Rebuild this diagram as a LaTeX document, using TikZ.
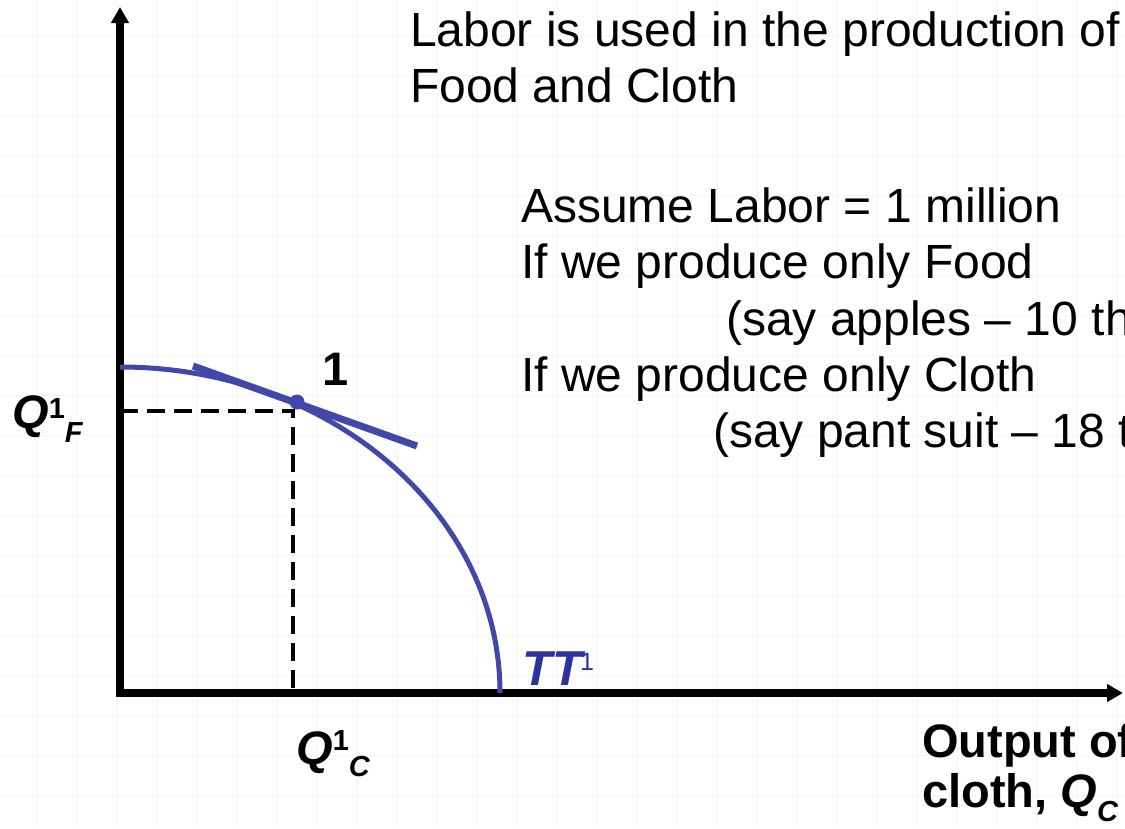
\documentclass[tikz,border=0pt]{standalone}
\usepackage{fontspec}
\setmainfont{Liberation Sans}
\usetikzlibrary{arrows.meta}

\definecolor{ppfblue}{RGB}{66,72,170}
\definecolor{ttblue}{RGB}{46,50,158}
\newcommand{\bodyfont}{\fontsize{48}{56}\selectfont}
\newcommand{\labfont}{\fontsize{47}{54}\selectfont\bfseries}
\newcommand{\smlfont}{\fontsize{29}{30}\selectfont}

\begin{document}
\begin{tikzpicture}[
    x=1pt, y=-1pt,
    gridline/.style={draw=black!4, line width=1pt},
    axis/.style={line width=8pt, line join=miter, {Triangle[length=16pt,width=17pt]}-{Triangle[length=16pt,width=17pt]}},
    ppf/.style={draw=ppfblue, line width=5pt},
    tangent/.style={draw=ppfblue, line width=7pt},
    guide/.style={draw=black, line width=4.5pt, dash pattern=on 18pt off 9pt},
    txt/.style={anchor=base west, inner sep=0pt, font=\bodyfont},
    lab/.style={anchor=base west, inner sep=0pt, font=\labfont}
]
    \useasboundingbox (0,0) rectangle (1125,828);
    \clip (0,0) rectangle (1125,828);
    \fill[white] (0,0) rectangle (1125,828);
    % faint grid behind
    \foreach \x in {37,77,...,1117} \draw[gridline] (\x,0) -- (\x,828);
    \foreach \y in {35,75,...,795} \draw[gridline] (0,\y) -- (1125,\y);

    \coordinate (O) at (120,693);
    \coordinate (ytip) at (120,7);
    \coordinate (xtip) at (1123,693);
    \coordinate (ftop) at (120,367);
    \coordinate (p1) at (297,402);
    \coordinate (tA) at (193,366);
    \coordinate (tB) at (417,446);
    \coordinate (c1) at (293,411);

    % dashed guides
    \draw[guide] (O |- c1) -- (c1) -- (c1 |- O);

    % axes
    \draw[axis] (ytip) -- (O) -- (xtip);

    % transformation curve and tangent
    \draw[ppf] (ftop) arc[start angle=-90, end angle=0, x radius=380, y radius=326];
    \draw[tangent] (tA) -- (tB);
    \fill[ppfblue] (p1) circle (7.5);

    % labels
    \node[lab] (one) at (322,385) {1};
    \node[lab] (qf) at (12,428) {\itshape Q\raisebox{10pt}{\smlfont\upshape 1}\raisebox{-14pt}{\smlfont F}};
    \node[lab] (qc) at (296,764) {\itshape Q\raisebox{14pt}{\smlfont\upshape 1}\raisebox{-12pt}{\smlfont C}};
    \node[lab, text=ttblue, font=\fontsize{49}{54}\selectfont\bfseries] (tt) at (522,685) {\itshape TT\kern-2pt\raisebox{15pt}{\fontsize{25}{28}\selectfont\mdseries\upshape 1}};
    \node[lab] (xl1) at (922,757) {Output of};
    \node[lab] (xl2) at (922,807) {cloth, \itshape Q\raisebox{-14pt}{\smlfont C}};

    % notes
    \node[txt] (n1) at (410,46) {Labor is used in the production of};
    \node[txt] (n2) at (410,102) {Food and Cloth};
    \node[txt] (n3) at (521,222) {Assume Labor = 1 million};
    \node[txt] (n4) at (521,278) {If we produce only Food};
    \node[txt] (n5) at (726,335) {(say apples -- 10 th};
    \node[txt] (n6) at (521,391) {If we produce only Cloth};
    \node[txt] (n7) at (713,447) {(say pant suit -- 18 t};
\end{tikzpicture}
\end{document}
